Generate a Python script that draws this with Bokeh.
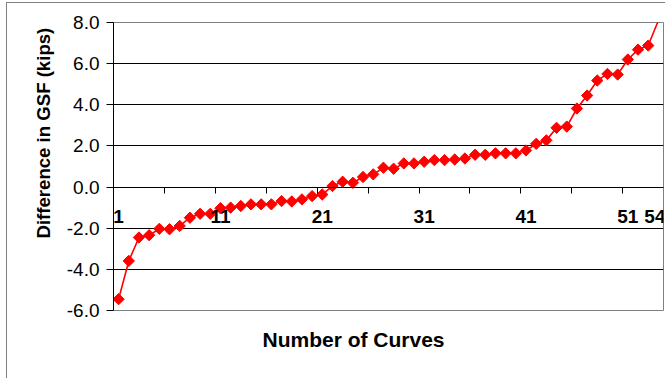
import numpy as np
from bokeh.plotting import figure
from bokeh.models import Range1d, LinearAxis, FixedTicker, Title, ColumnDataSource
from bokeh.embed import file_html
from bokeh.resources import INLINE

# ---- data ----
curves = list(range(1, 55))
gsf_diff = [-5.45, -3.59, -2.45, -2.34, -2.03, -2.05, -1.89, -1.49, -1.30, -1.30,
            -1.03, -1.00, -0.92, -0.84, -0.84, -0.84, -0.68, -0.70, -0.60, -0.44,
            -0.36, 0.05, 0.26, 0.21, 0.49, 0.62, 0.94, 0.89, 1.15, 1.15,
            1.23, 1.31, 1.31, 1.34, 1.39, 1.57, 1.57, 1.64, 1.64, 1.64,
            1.78, 2.10, 2.27, 2.88, 2.94, 3.82, 4.45, 5.18, 5.50, 5.47,
            6.20, 6.68, 6.88, 8.10]
x_tick_labels = [1, 11, 21, 31, 41, 51, 54]
y_ticks = [-6, -4, -2, 0, 2, 4, 6, 8]
y_min, y_max = -6, 8

FONT = "Liberation Sans"

p = figure(width=659, height=376,
           x_range=Range1d(0.5, len(curves) + 0.5),
           y_range=Range1d(y_min, y_max),
           output_backend="svg", toolbar_location=None,
           x_axis_location=None, y_axis_location=None,
           min_border_left=106, min_border_right=3,
           min_border_top=19, min_border_bottom=69,
           background_fill_color="white", border_fill_color="white",
           outline_line_color="#808080", outline_line_width=1,
           styles={"margin-left": "6px", "margin-top": "2px",
                   "border-left": "1px solid #808080",
                   "border-top": "1px solid #808080"})

# y axis
yax = LinearAxis(ticker=FixedTicker(ticks=y_ticks, minor_ticks=[]))
yax.major_label_overrides = {t: f"{t:.1f}" for t in y_ticks}
yax.major_label_text_font = FONT
yax.major_label_text_font_size = "19px"
yax.major_label_text_color = "black"
yax.major_label_standoff = 7
yax.major_tick_out = 7
yax.major_tick_in = 0
yax.major_tick_line_color = "black"
yax.axis_line_color = "black"
yax.axis_label = None
p.add_layout(yax, "left")

# x axis at y = 0
xax = LinearAxis(fixed_location=0,
                 ticker=FixedTicker(ticks=x_tick_labels,
                                    minor_ticks=[c - 0.5 for c in curves[::5]]))
xax.major_label_text_font = FONT
xax.major_label_text_font_size = "19px"
xax.major_label_text_font_style = "bold"
xax.major_label_text_color = "black"
xax.major_label_standoff = 17
xax.major_tick_out = 0
xax.major_tick_in = 0
xax.minor_tick_out = 6
xax.minor_tick_in = 0
xax.minor_tick_line_color = "black"
xax.axis_line_color = "black"
xax.axis_label = None
p.add_layout(xax, "below")

p.xgrid.visible = False
p.ygrid.ticker = FixedTicker(ticks=y_ticks)
p.ygrid.grid_line_color = "black"
p.ygrid.grid_line_width = 1

# series
p.line(curves, gsf_diff, line_color="#FF0000", line_width=1.6)
inside = [(c, v) for c, v in zip(curves, gsf_diff) if y_min <= v <= y_max]
src = ColumnDataSource(dict(x=[c for c, _ in inside], y=[v for _, v in inside]))
p.scatter("x", "y", source=src, marker="square", size=8, angle=np.pi / 4,
          fill_color="#FF0000", line_color="#FF0000")

# axis titles
p.add_layout(Title(text="Difference in GSF (kips)", align="left", offset=72,
                   standoff=20, text_font=FONT, text_font_size="18.6px",
                   text_font_style="bold", text_color="black"), "left")
p.add_layout(Title(text="Number of Curves", align="left", offset=149,
                   standoff=31, text_font=FONT, text_font_size="21px",
                   text_font_style="bold", text_color="black"), "below")

open("out.html", "w").write(file_html(p, INLINE))
